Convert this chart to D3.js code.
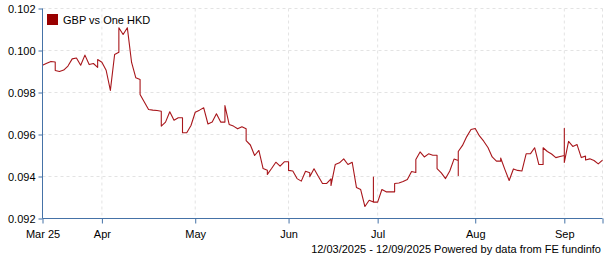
<!DOCTYPE html>
<html>
<head>
<meta charset="utf-8">
<script src="https://cdn.jsdelivr.net/npm/d3@7"></script>
<style>
  body { margin: 0; background: #fff; }
  svg { display: block; font-family: "Liberation Sans", Arial, sans-serif; }
  .grid line { stroke: #e3e3e3; stroke-dasharray: 3,3; }
  .axis path, .axis line { stroke: #4572a7; }
  .axis text { fill: #000; font-size: 11px; }
</style>
</head>
<body>
<svg width="605" height="260"></svg>
<script>
// series: GBP vs One HKD, one entry per weekday from startDate to endDate
// an entry given as a list holds several readings drawn on the same day
var seriesName = "GBP vs One HKD";
var startDate = "2025-03-12", endDate = "2025-09-12";
var values = [
  0.09930, 0.09939, 0.09948, [0.09945, 0.09905], 0.09900, 0.09907, 0.09926, 0.09960, 0.09964, 0.09930,
  0.09978, 0.09933, 0.09938, [0.09920, 0.09957], 0.09944, 0.09906, 0.09810, 0.09981, [0.09992, 0.10108], 0.10076,
  0.10108, 0.09943, 0.09870, [0.09862, 0.09790], 0.09755, 0.09719, 0.09716, 0.09714, [0.09711, 0.09640], 0.09659,
  0.09708, 0.09668, 0.09680, [0.09680, 0.09608], 0.09608, 0.09643, 0.09706, 0.09716, 0.09727, 0.09650,
  0.09659, 0.09699, 0.09659, [0.09659, 0.09738], 0.09648, 0.09640, 0.09627, 0.09637, [0.09627, 0.09571], 0.09550,
  0.09500, 0.09524, 0.09438, [0.09430, 0.09410], 0.09438, 0.09468, 0.09449, 0.09470, [0.09470, 0.09429], 0.09426,
  0.09390, 0.09378, 0.09425, [0.09418, 0.09399], 0.09437, 0.09401, 0.09367, 0.09367, [0.09389, 0.09357], 0.09457,
  0.09465, 0.09484, 0.09457, 0.09468, 0.09348, 0.09338, 0.09257, 0.09287, [0.09278, 0.09397, 0.09278], 0.09278,
  0.09338, 0.09327, 0.09327, [0.09327, 0.09367], 0.09369, 0.09376, 0.09386, 0.09424, [0.09419, 0.09481], 0.09517,
  0.09493, 0.09508, 0.09501, [0.09501, 0.09438], 0.09417, 0.09390, 0.09426, 0.09483, [0.09476, 0.09405, 0.09519], 0.09548,
  0.09590, 0.09624, 0.09629, 0.09593, 0.09568, 0.09538, 0.09493, 0.09473, [0.09473, 0.09488], 0.09433,
  0.09381, 0.09436, 0.09429, 0.09426, 0.09508, 0.09508, 0.09537, 0.09457, [0.09457, 0.09537], 0.09519,
  0.09507, 0.09490, 0.09495, [0.09500, 0.09629, 0.09467], 0.09567, 0.09543, 0.09552, 0.09490, [0.09497, 0.09479], 0.09484,
  0.09476, 0.09460, 0.09478
];
var yTicks = [0.092, 0.094, 0.096, 0.098, 0.100, 0.102];
var xTickDates = ["2025-03-12", "2025-04-01", "2025-05-01", "2025-06-02", "2025-07-01", "2025-08-01", "2025-09-01", "2025-09-12"];
var xTickLabels = ["Mar 25", "Apr", "May", "Jun", "Jul", "Aug", "Sep", ""];
var footer = "12/03/2025 - 12/09/2025 Powered by data from FE fundinfo";

var svg = d3.select("svg");
var parse = d3.timeParse("%Y-%m-%d"),
    fmt = d3.timeFormat("%Y-%m-%d");

// trading days only (weekends dropped), evenly spaced
var days = d3.timeDay.range(parse(startDate), d3.timeDay.offset(parse(endDate), 1))
  .filter(function(d){ return d.getDay() !== 0 && d.getDay() !== 6; })
  .map(fmt);

var x = d3.scalePoint().domain(days).range([42.5, 602.5]);
var y = d3.scaleLinear().domain([0.092, 0.102]).range([218.5, 8.5]);

var points = [];
values.forEach(function(v, i){
  [].concat(v).forEach(function(val){ points.push({ day: days[i], value: val }); });
});

// grid
var grid = svg.append("g").attr("class", "grid");
grid.selectAll("line.h")
  .data(yTicks.slice(1))
  .enter().append("line")
    .attr("x1", 42.5).attr("x2", 602.5)
    .attr("y1", function(d){ return y(d); })
    .attr("y2", function(d){ return y(d); });
grid.selectAll("line.v")
  .data(xTickDates.slice(1))
  .enter().append("line")
    .attr("x1", function(d){ return x(d); })
    .attr("x2", function(d){ return x(d); })
    .attr("y1", 8.5).attr("y2", 218.5);

// line
svg.append("path")
  .datum(points)
  .attr("fill", "none")
  .attr("stroke", "#a8161b")
  .attr("stroke-width", 1.1)
  .attr("stroke-linejoin", "round")
  .attr("d", d3.line()
    .x(function(d){ return x(d.day); })
    .y(function(d){ return y(d.value); }));

// axes
svg.append("g")
  .attr("class", "axis")
  .attr("transform", "translate(42.5,0)")
  .call(d3.axisLeft(y).tickValues(yTicks).tickFormat(d3.format(".3f")).tickSize(4).tickPadding(3))
  .call(function(g){ g.select(".domain").attr("d", "M0," + y(0.102) + "V" + y(0.092)); });

svg.append("g")
  .attr("class", "axis")
  .attr("transform", "translate(0,218.5)")
  .call(d3.axisBottom(x).tickValues(xTickDates)
    .tickFormat(function(d, i){ return xTickLabels[i]; })
    .tickSize(5).tickPadding(7))
  .call(function(g){ g.select(".domain").attr("d", "M42.5,0H602.5"); });

// legend
var legend = svg.append("g").attr("transform", "translate(47,14)");
legend.append("rect").attr("width", 11).attr("height", 11).attr("fill", "#990000");
legend.append("text").attr("x", 16).attr("y", 9.5)
  .style("font-size", "11px").text(seriesName);

// footer
svg.append("text")
  .attr("x", 601).attr("y", 253)
  .attr("text-anchor", "end")
  .style("font-size", "11px")
  .text(footer);
</script>
</body>
</html>
